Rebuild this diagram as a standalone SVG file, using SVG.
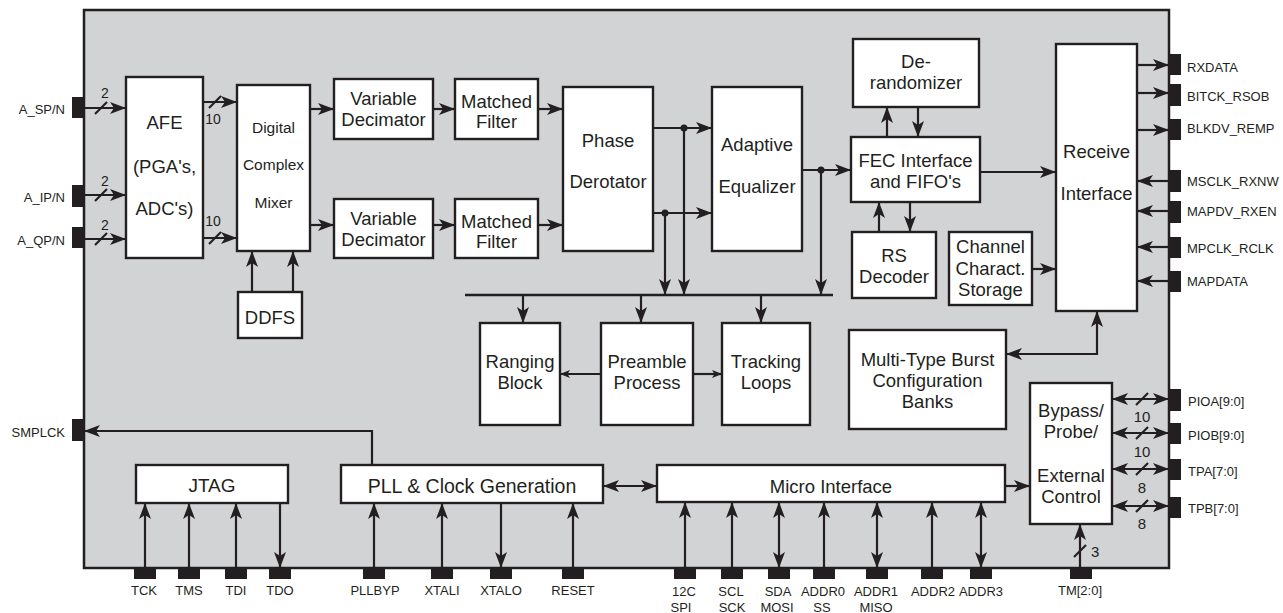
<svg xmlns="http://www.w3.org/2000/svg" width="1283" height="613" viewBox="0 0 1283 613">
<defs>
<style>
.chip{fill:#d1d3d4;stroke:#231f20;stroke-width:2.5}
.box{fill:#fff;stroke:#231f20;stroke-width:2.4}
.t{font-family:"Liberation Sans",Arial,Helvetica,sans-serif;font-size:18.5px;fill:#231f20;text-anchor:middle}
.m{font-size:15.5px}
.l{font-family:"Liberation Sans",Arial,Helvetica,sans-serif;font-size:13px;fill:#231f20}
.e{text-anchor:end}
.c{text-anchor:middle}
.n{font-family:"Liberation Sans",Arial,Helvetica,sans-serif;font-size:15px;fill:#231f20;text-anchor:middle}
.w{stroke:#231f20;stroke-width:2.2;fill:none}
.a{marker-end:url(#ah)}
.b{marker-start:url(#ah);marker-end:url(#ah)}
.s{marker-end:url(#as)}
.pin{fill:#231f20}
.dot{fill:#231f20}
</style>
<marker id="ah" viewBox="0 0 16 12" refX="16" refY="6" markerWidth="16" markerHeight="12" markerUnits="userSpaceOnUse" orient="auto-start-reverse"><path d="M0,0 L16,6 L0,12 L4,6 z" fill="#231f20"/></marker>
<marker id="as" viewBox="0 0 10 8" refX="10" refY="4" markerWidth="10" markerHeight="8" markerUnits="userSpaceOnUse" orient="auto-start-reverse"><path d="M0,0 L10,4 L0,8 L2.5,4 z" fill="#231f20"/></marker>
</defs>

<rect class="chip" x="84" y="10" width="1085" height="558"/>

<g id="connectors">
<!-- AFE inputs -->
<line class="w a" x1="84" y1="108" x2="126" y2="108"/>
<line class="w a" x1="84" y1="195" x2="126" y2="195"/>
<line class="w a" x1="84" y1="239" x2="126" y2="239"/>
<line class="w" x1="95" y1="114" x2="107" y2="102"/>
<line class="w" x1="95" y1="201" x2="107" y2="189"/>
<line class="w" x1="95" y1="245" x2="107" y2="233"/>
<text class="n" x="105" y="98" style="font-size:14px">2</text>
<text class="n" x="105" y="186" style="font-size:14px">2</text>
<text class="n" x="105" y="230" style="font-size:14px">2</text>
<!-- AFE outputs -->
<line class="w a" x1="203" y1="102" x2="237" y2="102"/>
<line class="w a" x1="203" y1="238" x2="237" y2="238"/>
<line class="w" x1="209" y1="108" x2="221" y2="96"/>
<line class="w" x1="209" y1="244" x2="221" y2="232"/>
<text class="n" x="213" y="124" style="font-size:14px">10</text>
<text class="n" x="213" y="226" style="font-size:14px">10</text>
<!-- DDFS to mixer -->
<line class="w a" x1="252" y1="292" x2="252" y2="251"/>
<line class="w a" x1="293" y1="292" x2="293" y2="251"/>
<!-- mixer chain -->
<line class="w a" x1="310" y1="109" x2="334" y2="109"/>
<line class="w a" x1="310" y1="225" x2="334" y2="225"/>
<line class="w a" x1="433" y1="109" x2="455" y2="109"/>
<line class="w a" x1="433" y1="225" x2="455" y2="225"/>
<line class="w a" x1="538" y1="109" x2="563" y2="109"/>
<line class="w a" x1="538" y1="225" x2="563" y2="225"/>
<!-- phase to equalizer -->
<line class="w a" x1="653" y1="128" x2="712" y2="128"/>
<line class="w a" x1="653" y1="213" x2="712" y2="213"/>
<line class="w a" x1="684" y1="128" x2="684" y2="295"/>
<line class="w a" x1="665" y1="213" x2="665" y2="295"/>
<circle class="dot" cx="684" cy="128" r="3.5"/>
<circle class="dot" cx="665" cy="213" r="3.5"/>
<!-- equalizer to FEC -->
<line class="w a" x1="802" y1="170" x2="851" y2="170"/>
<line class="w a" x1="821" y1="170" x2="821" y2="295"/>
<circle class="dot" cx="821" cy="170" r="3.5"/>
<!-- bus -->
<line class="w" x1="465" y1="295" x2="833" y2="295" style="stroke-width:2.5"/>
<line class="w a" x1="523" y1="295" x2="523" y2="323"/>
<line class="w a" x1="641" y1="295" x2="641" y2="323"/>
<line class="w a" x1="761" y1="295" x2="761" y2="323"/>
<!-- preamble -->
<line class="w s" x1="601" y1="374" x2="560" y2="374"/>
<line class="w s" x1="693" y1="374" x2="722" y2="374"/>
<!-- FEC group -->
<line class="w a" x1="887" y1="137" x2="887" y2="107"/>
<line class="w a" x1="918" y1="107" x2="918" y2="137"/>
<line class="w a" x1="879" y1="232" x2="879" y2="202"/>
<line class="w a" x1="910" y1="202" x2="910" y2="232"/>
<line class="w a" x1="980" y1="172" x2="1056" y2="172"/>
<line class="w a" x1="1032" y1="269" x2="1056" y2="269"/>
<!-- receive interface pins -->
<line class="w a" x1="1137" y1="65" x2="1169" y2="65"/>
<line class="w a" x1="1137" y1="93" x2="1169" y2="93"/>
<line class="w a" x1="1137" y1="130" x2="1169" y2="130"/>
<line class="w a" x1="1169" y1="181" x2="1137" y2="181"/>
<line class="w a" x1="1169" y1="211" x2="1137" y2="211"/>
<line class="w a" x1="1169" y1="247" x2="1137" y2="247"/>
<line class="w a" x1="1169" y1="281" x2="1137" y2="281"/>
<!-- multi-type to receive -->
<path class="w b" d="M1006,354 H1097 V311"/>
<!-- bypass -->
<line class="w b" x1="1112" y1="399" x2="1169" y2="399"/>
<line class="w b" x1="1112" y1="433" x2="1169" y2="433"/>
<line class="w b" x1="1112" y1="469" x2="1169" y2="469"/>
<line class="w b" x1="1112" y1="506" x2="1169" y2="506"/>
<line class="w" x1="1136" y1="405" x2="1148" y2="393"/>
<line class="w" x1="1136" y1="439" x2="1148" y2="427"/>
<line class="w" x1="1136" y1="475" x2="1148" y2="463"/>
<line class="w" x1="1136" y1="512" x2="1148" y2="500"/>
<text class="n" x="1142" y="422">10</text>
<text class="n" x="1142" y="457">10</text>
<text class="n" x="1142" y="493">8</text>
<text class="n" x="1142" y="529">8</text>
<line class="w a" x1="1005" y1="486" x2="1030" y2="486"/>
<line class="w a" x1="1080" y1="568" x2="1080" y2="524"/>
<line class="w" x1="1074" y1="557" x2="1086" y2="545"/>
<text class="n" x="1091" y="557" style="text-anchor:start">3</text>
<!-- PLL / micro -->
<line class="w b" x1="603" y1="486" x2="657" y2="486"/>
<path class="w a" d="M372,465 V431 H84"/>
<!-- JTAG pins -->
<line class="w a" x1="145" y1="568" x2="145" y2="503"/>
<line class="w a" x1="189" y1="568" x2="189" y2="503"/>
<line class="w a" x1="236" y1="568" x2="236" y2="503"/>
<line class="w a" x1="280" y1="503" x2="280" y2="568"/>
<!-- PLL pins -->
<line class="w a" x1="374" y1="568" x2="374" y2="503"/>
<line class="w a" x1="442" y1="568" x2="442" y2="503"/>
<line class="w a" x1="501" y1="503" x2="501" y2="568"/>
<line class="w a" x1="573" y1="568" x2="573" y2="503"/>
<!-- micro pins -->
<line class="w a" x1="685" y1="568" x2="685" y2="502"/>
<line class="w a" x1="732" y1="568" x2="732" y2="502"/>
<line class="w b" x1="779" y1="568" x2="779" y2="502"/>
<line class="w a" x1="824" y1="568" x2="824" y2="502"/>
<line class="w b" x1="877" y1="568" x2="877" y2="502"/>
<line class="w a" x1="932" y1="568" x2="932" y2="502"/>
<line class="w b" x1="981" y1="568" x2="981" y2="502"/>
</g>

<g id="afe"><rect class="box" x="126" y="77" width="77" height="181"/>
<text class="t" x="164.5" y="128.5">AFE</text><text class="t" x="164.5" y="172.5">(PGA's,</text><text class="t" x="164.5" y="214.5">ADC's)</text></g>
<g id="mixer"><rect class="box" x="237" y="85" width="73" height="166"/>
<text class="t m" x="273.5" y="132.5">Digital</text><text class="t m" x="273.5" y="169.5">Complex</text><text class="t m" x="273.5" y="207.5">Mixer</text></g>
<g id="ddfs"><rect class="box" x="238" y="292" width="64" height="46"/>
<text class="t" x="270" y="324">DDFS</text></g>
<g id="vd1"><rect class="box" x="334" y="79" width="99" height="60"/>
<text class="t" x="383.5" y="105">Variable</text><text class="t" x="383.5" y="126">Decimator</text></g>
<g id="vd2"><rect class="box" x="334" y="199" width="99" height="59"/>
<text class="t" x="383.5" y="225">Variable</text><text class="t" x="383.5" y="246">Decimator</text></g>
<g id="mf1"><rect class="box" x="455" y="79" width="83" height="60"/>
<text class="t" x="496.5" y="107.5">Matched</text><text class="t" x="496.5" y="128">Filter</text></g>
<g id="mf2"><rect class="box" x="455" y="199" width="83" height="59"/>
<text class="t" x="496.5" y="227.5">Matched</text><text class="t" x="496.5" y="248">Filter</text></g>
<g id="phase"><rect class="box" x="563" y="87" width="90" height="164"/>
<text class="t" x="608" y="146.5">Phase</text><text class="t" x="608" y="188">Derotator</text></g>
<g id="equalizer"><rect class="box" x="712" y="87" width="90" height="164"/>
<text class="t" x="757" y="150.5">Adaptive</text><text class="t" x="757" y="193">Equalizer</text></g>
<g id="derand"><rect class="box" x="853" y="39" width="126" height="68"/>
<text class="t" x="916" y="68">De-</text><text class="t" x="916" y="89">randomizer</text></g>
<g id="fec"><rect class="box" x="851" y="137" width="129" height="65"/>
<text class="t" x="915.5" y="167">FEC Interface</text><text class="t" x="915.5" y="188">and FIFO's</text></g>
<g id="rs"><rect class="box" x="852" y="232" width="84" height="66"/>
<text class="t" x="894" y="261.5">RS</text><text class="t" x="894" y="282.5">Decoder</text></g>
<g id="channel"><rect class="box" x="949" y="232" width="83" height="73"/>
<text class="t" x="990.5" y="253">Channel</text><text class="t" x="990.5" y="275">Charact.</text><text class="t" x="990.5" y="296">Storage</text></g>
<g id="receive"><rect class="box" x="1056" y="44" width="81" height="267"/>
<text class="t" x="1096.5" y="158">Receive</text><text class="t" x="1096.5" y="200">Interface</text></g>
<g id="ranging"><rect class="box" x="480" y="323" width="80" height="102"/>
<text class="t" x="520" y="368">Ranging</text><text class="t" x="520" y="388.5">Block</text></g>
<g id="preamble"><rect class="box" x="601" y="323" width="92" height="102"/>
<text class="t" x="647" y="368">Preamble</text><text class="t" x="647" y="388.5">Process</text></g>
<g id="tracking"><rect class="box" x="722" y="323" width="88" height="102"/>
<text class="t" x="766" y="368">Tracking</text><text class="t" x="766" y="388.5">Loops</text></g>
<g id="multitype"><rect class="box" x="849" y="330" width="157" height="99"/>
<text class="t" x="927.5" y="366">Multi-Type Burst</text><text class="t" x="927.5" y="387">Configuration</text><text class="t" x="927.5" y="408">Banks</text></g>
<g id="bypass"><rect class="box" x="1030" y="383" width="82" height="141"/>
<text class="t" x="1071" y="416.5">Bypass/</text><text class="t" x="1071" y="438">Probe/</text><text class="t" x="1071" y="481.5">External</text><text class="t" x="1071" y="503">Control</text></g>
<g id="jtag"><rect class="box" x="136" y="465" width="152" height="38"/>
<text class="t" x="212" y="492" style="font-size:19px">JTAG</text></g>
<g id="pll"><rect class="box" x="341" y="465" width="262" height="38"/>
<text class="t" x="472" y="493" style="font-size:19.5px">PLL &amp; Clock Generation</text></g>
<g id="micro"><rect class="box" x="657" y="465" width="348" height="37"/>
<text class="t" x="831" y="493">Micro Interface</text></g>

<g id="pins-left">
<rect class="pin" x="72" y="97" width="12" height="21"/><text class="l e" x="65" y="114">A_SP/N</text>
<rect class="pin" x="72" y="185" width="12" height="22"/><text class="l e" x="65" y="202">A_IP/N</text>
<rect class="pin" x="72" y="227" width="12" height="21"/><text class="l e" x="65" y="245">A_QP/N</text>
<rect class="pin" x="72" y="419" width="12" height="22"/><text class="l e" x="65" y="437">SMPLCK</text>
</g>
<g id="pins-right">
<rect class="pin" x="1169" y="54" width="12" height="21"/><text class="l" x="1187" y="72">RXDATA</text>
<rect class="pin" x="1169" y="84" width="12" height="22"/><text class="l" x="1187" y="101">BITCK_RSOB</text>
<rect class="pin" x="1169" y="119" width="12" height="21"/><text class="l" x="1187" y="133">BLKDV_REMP</text>
<rect class="pin" x="1169" y="170" width="12" height="22"/><text class="l" x="1187" y="186">MSCLK_RXNW</text>
<rect class="pin" x="1169" y="201" width="12" height="22"/><text class="l" x="1187" y="216">MAPDV_RXEN</text>
<rect class="pin" x="1169" y="237" width="12" height="21"/><text class="l" x="1187" y="253">MPCLK_RCLK</text>
<rect class="pin" x="1169" y="271" width="12" height="21"/><text class="l" x="1187" y="286">MAPDATA</text>
<rect class="pin" x="1169" y="389" width="12" height="22"/><text class="l" x="1188" y="406">PIOA[9:0]</text>
<rect class="pin" x="1169" y="423" width="12" height="21"/><text class="l" x="1188" y="440">PIOB[9:0]</text>
<rect class="pin" x="1169" y="459" width="12" height="21"/><text class="l" x="1188" y="476">TPA[7:0]</text>
<rect class="pin" x="1169" y="497" width="12" height="21"/><text class="l" x="1188" y="513">TPB[7:0]</text>
</g>
<g id="pins-bottom">
<rect class="pin" x="134" y="568" width="22" height="11"/><text class="l c" x="144" y="595">TCK</text>
<rect class="pin" x="178" y="568" width="22" height="11"/><text class="l c" x="189" y="595">TMS</text>
<rect class="pin" x="225" y="568" width="22" height="11"/><text class="l c" x="236" y="595">TDI</text>
<rect class="pin" x="269" y="568" width="22" height="11"/><text class="l c" x="280" y="595">TDO</text>
<rect class="pin" x="363" y="568" width="22" height="11"/><text class="l c" x="375" y="595">PLLBYP</text>
<rect class="pin" x="431" y="568" width="22" height="11"/><text class="l c" x="442" y="595">XTALI</text>
<rect class="pin" x="490" y="568" width="22" height="11"/><text class="l c" x="501" y="595">XTALO</text>
<rect class="pin" x="562" y="568" width="22" height="11"/><text class="l c" x="573" y="595">RESET</text>
<rect class="pin" x="674" y="568" width="22" height="11"/><text class="l c" x="684" y="596">12C</text><text class="l c" x="681" y="612">SPI</text>
<rect class="pin" x="721" y="568" width="22" height="11"/><text class="l c" x="731" y="596">SCL</text><text class="l c" x="732" y="612">SCK</text>
<rect class="pin" x="768" y="568" width="22" height="11"/><text class="l c" x="778" y="596">SDA</text><text class="l c" x="777" y="612">MOSI</text>
<rect class="pin" x="813" y="568" width="22" height="11"/><text class="l c" x="823" y="596">ADDR0</text><text class="l c" x="822" y="612">SS</text>
<rect class="pin" x="866" y="568" width="22" height="11"/><text class="l c" x="876" y="596">ADDR1</text><text class="l c" x="876" y="612">MISO</text>
<rect class="pin" x="921" y="568" width="22" height="11"/><text class="l c" x="933" y="596">ADDR2</text>
<rect class="pin" x="970" y="568" width="22" height="11"/><text class="l c" x="981" y="596">ADDR3</text>
<rect class="pin" x="1070" y="568" width="22" height="11"/><text class="l c" x="1080" y="595">TM[2:0]</text>
</g>
</svg>
